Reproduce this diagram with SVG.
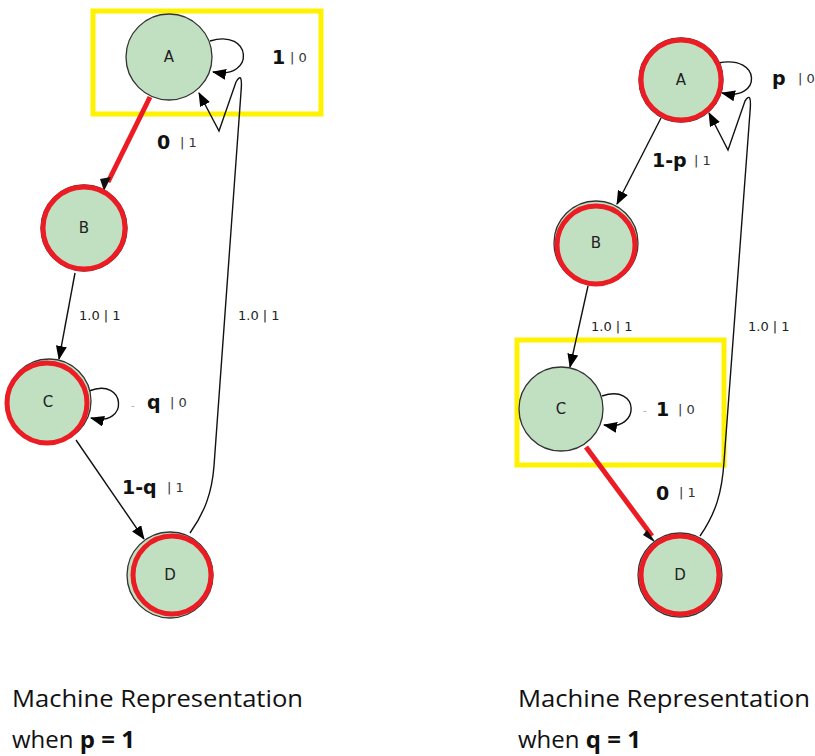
<svg xmlns="http://www.w3.org/2000/svg" width="815" height="756" viewBox="0 0 815 756">
  <defs>
    <marker id="arr" viewBox="0 0 14 11" refX="13" refY="5.5" markerWidth="14" markerHeight="11" markerUnits="userSpaceOnUse" orient="auto">
      <path d="M0,0 L14,5.5 L0,11 Z" fill="#000"/>
    </marker>
  </defs>
  <style>
    .node { fill: #c1dfc1; stroke: #333; stroke-width: 1.3; }
    .ring { fill: none; stroke: #ec1c24; stroke-width: 5; }
    .edge { fill: none; stroke: #111; stroke-width: 1.4; marker-end: url(#arr); }
    .hot { fill: none; stroke: #ec1c24; stroke-width: 5; }
    .box { fill: none; stroke: #fff200; stroke-width: 5; }
    .lbl { font-family: "DejaVu Sans", "Liberation Sans", sans-serif; font-size: 15px; fill: #222; text-anchor: middle; }
    .e { font-family: "DejaVu Sans", "Liberation Sans", sans-serif; font-size: 13px; fill: #222; }
    .b { font-family: "DejaVu Sans", "Liberation Sans", sans-serif; font-size: 19px; font-weight: bold; fill: #111; }
    .s { font-family: "DejaVu Sans", "Liberation Sans", sans-serif; font-size: 13px; fill: #333; }
    .dash { font-family: "DejaVu Sans", sans-serif; font-size: 10px; fill: #aaa; }
    .cap { font-family: "Open Sans", "Liberation Sans", sans-serif; font-size: 24px; fill: #111; }
  </style>

  <!-- highlight boxes -->
  <rect class="box" x="93" y="11" width="228" height="103"/>
  <rect class="box" x="517" y="340" width="207" height="125"/>

  <!-- connectors -->
  <g id="connectors">
    <!-- machine p = 1 -->
    <path class="edge" d="M210,41 C252,28 256,80 213,72"/>
    <path class="hot" d="M150,97 L108,182"/>
    <path d="M111,177 L104,191 L100,179 Z" fill="#111"/>
    <path class="edge" d="M75,273 L59,359"/>
    <path class="edge" d="M89,391 C126,376 130,428 91,418"/>
    <path class="edge" d="M76,440 L144,539"/>
    <path class="edge" d="M190,533 C205,512 212,492 214,466 L241,92 Q243,70 236,82 L219,131 L199,93"/>

    <!-- machine q = 1 -->
    <path class="edge" d="M718,63 C762,54 762,102 722,93"/>
    <path class="edge" d="M661,118 L617,204"/>
    <path class="edge" d="M588,286 L570,367"/>
    <path class="edge" d="M602,396 C640,383 641,432 604,425"/>
    <path class="hot" d="M586,447 L652,536"/>
    <path d="M647,530 L656,543 L643,535 Z" fill="#111"/>
    <path class="edge" d="M700,536 C716,513 722,492 724,462 L750,112 Q752,90 745,101 L728,150 L709,113"/>
  </g>

  <!-- machine p = 1 : states -->
  <g id="p-A">
    <circle class="node" cx="169" cy="57" r="43"/>
    <text class="lbl" x="169" y="62">A</text>
  </g>
  <g id="p-B">
    <circle class="node" cx="84" cy="228" r="43"/>
    <circle class="ring" cx="84" cy="228" r="41"/>
    <text class="lbl" x="84" y="233">B</text>
  </g>
  <g id="p-C">
    <circle class="node" cx="49" cy="401" r="42"/>
    <circle class="ring" cx="47" cy="403" r="40"/>
    <text class="lbl" x="48" y="407">C</text>
  </g>
  <g id="p-D">
    <circle class="node" cx="170" cy="575" r="43"/>
    <circle class="ring" cx="172" cy="575" r="39"/>
    <text class="lbl" x="170" y="580">D</text>
  </g>

  <!-- machine p = 1 : edge labels -->
  <g id="p-labels">
    <text class="b" x="272" y="64">1</text>
    <text class="s" x="290" y="62">| 0</text>
    <text class="b" x="157" y="149">0</text>
    <text class="s" x="180" y="147">| 1</text>
    <text class="e" x="79" y="320">1.0 | 1</text>
    <text class="e" x="238" y="320">1.0 | 1</text>
    <text class="dash" x="131" y="409">-</text>
    <text class="b" x="147" y="409">q</text>
    <text class="s" x="170" y="407">| 0</text>
    <text class="b" x="122" y="494">1-q</text>
    <text class="s" x="167" y="492">| 1</text>
  </g>

  <!-- machine q = 1 : states -->
  <g id="q-A">
    <circle class="node" cx="681" cy="80" r="42"/>
    <circle class="ring" cx="681" cy="80" r="40"/>
    <text class="lbl" x="681" y="85">A</text>
  </g>
  <g id="q-B">
    <circle class="node" cx="596" cy="243" r="42"/>
    <circle class="ring" cx="596" cy="245" r="39"/>
    <text class="lbl" x="596" y="248">B</text>
  </g>
  <g id="q-C">
    <circle class="node" cx="561" cy="409" r="42"/>
    <text class="lbl" x="561" y="414">C</text>
  </g>
  <g id="q-D">
    <circle class="node" cx="680" cy="575" r="42"/>
    <circle class="ring" cx="680" cy="575" r="39"/>
    <text class="lbl" x="680" y="580">D</text>
  </g>

  <!-- machine q = 1 : edge labels -->
  <g id="q-labels">
    <text class="b" x="772" y="85">p</text>
    <text class="s" x="798" y="83">| 0</text>
    <text class="b" x="652" y="167">1-p</text>
    <text class="s" x="694" y="165">| 1</text>
    <text class="e" x="591" y="331">1.0 | 1</text>
    <text class="e" x="748" y="331">1.0 | 1</text>
    <text class="dash" x="643" y="414">-</text>
    <text class="b" x="656" y="416">1</text>
    <text class="s" x="678" y="414">| 0</text>
    <text class="b" x="656" y="500">0</text>
    <text class="s" x="679" y="497">| 1</text>
  </g>

  <!-- captions -->
  <g id="captions">
    <text class="cap" x="12" y="707" textLength="291" lengthAdjust="spacingAndGlyphs">Machine Representation</text>
    <text class="cap" x="12" y="748">when <tspan font-weight="bold">p = 1</tspan></text>
    <text class="cap" x="518" y="707" textLength="292" lengthAdjust="spacingAndGlyphs">Machine Representation</text>
    <text class="cap" x="518" y="748">when <tspan font-weight="bold">q = 1</tspan></text>
  </g>
</svg>
